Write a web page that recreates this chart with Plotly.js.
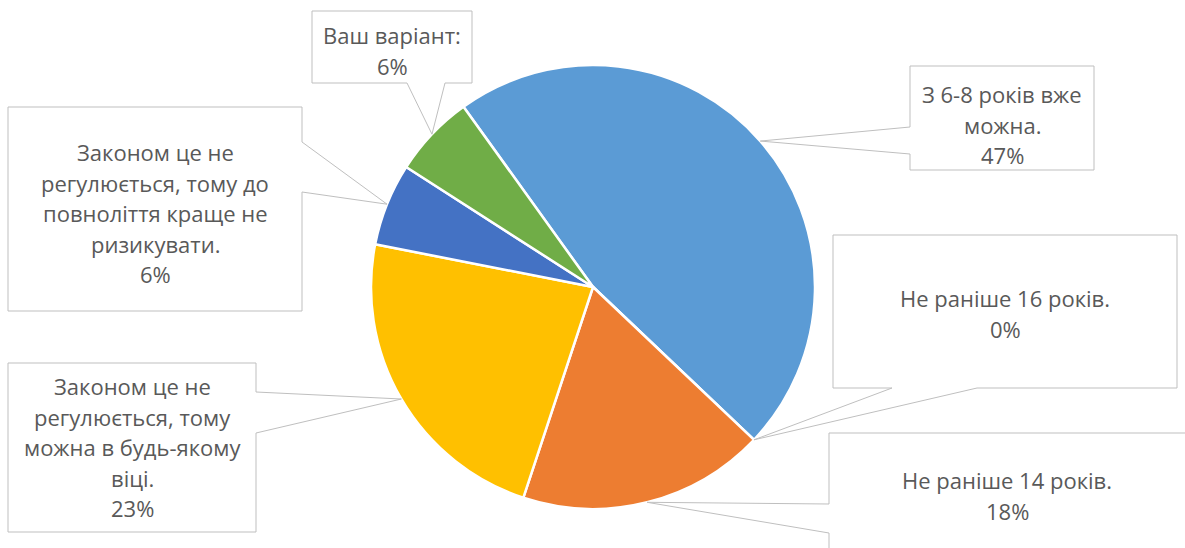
<!DOCTYPE html>
<html>
<head>
<meta charset="utf-8">
<script src="https://cdn.plot.ly/plotly-3.0.1.min.js"></script>
<style>html,body{margin:0;padding:0;background:#fff;}#chart{width:1185px;height:548px;}</style>
</head>
<body>
<div id="chart"></div>
<script>
// ---- data ----
const categories = [
  "З 6-8 років вже можна.",
  "Не раніше 16 років.",
  "Не раніше 14 років.",
  "Законом це не регулюється, тому можна в будь-якому віці.",
  "Законом це не регулюється, тому до повноліття краще не ризикувати.",
  "Ваш варіант:"
];
const values = [47, 0, 18, 23, 6, 6];
const labelLines = [
  ["З 6-8 років вже", "можна."],
  ["Не раніше 16 років."],
  ["Не раніше 14 років."],
  ["Законом це не", "регулюється, тому", "можна в будь-якому", "віці."],
  ["Законом це не", "регулюється, тому до", "повноліття краще не", "ризикувати."],
  ["Ваш варіант:"]
];
const colors = ["#5B9BD5", "#A5A5A5", "#ED7D31", "#FFC000", "#4472C4", "#70AD47"];

// ---- layout constants (pixels) ----
const W = 1185, H = 548;
const CX = 593, CY = 287, R = 222;
const START = 324.3;   // degrees clockwise from 12 o'clock
const LINE = 30.5;
// callout boxes: [x0,y0,x1,y1], wedge side, wedge base [a,b], text centre x, first line y
const callouts = [
  {box: [910, 66, 1094, 170], side: "left",   base: [127, 154], tx: 1002, ty: 94},
  {box: [833, 235, 1177, 388], side: "bottom", base: [892, 977], tx: 1005, ty: 298},
  {box: [829, 433, 1195, 560], side: "left",   base: [504, 533], tx: 1007, ty: 480},
  {box: [8, 363, 256, 532],    side: "right",  base: [392, 433], tx: 132,  ty: 386},
  {box: [8, 107, 302, 311],    side: "right",  base: [142, 192], tx: 155,  ty: 152},
  {box: [312, 11, 472, 83],    side: "bottom", base: [407, 445], tx: 392,  ty: 35}
];

const total = values.reduce((a, b) => a + b, 0);
const pct = values.map(v => Math.round(v / total * 100) + "%");

// tip of each callout = slice mid-angle on pie rim
let cum = 0;
const tips = values.map(v => {
  const ang = (START + (cum + v / 2) / total * 360) * Math.PI / 180;
  cum += v;
  return [CX + R * Math.sin(ang), CY - R * Math.cos(ang)];
});

const shapes = [];
const annotations = [];
const font = {family: "'Open Sans', 'Noto Sans', sans-serif", size: 22, color: "#595959"};

callouts.forEach((c, i) => {
  const [x0, y0, x1, y1] = c.box;
  const [tx, ty] = tips[i];
  const [a, b] = c.base;
  let p;
  if (c.side === "bottom") {
    p = `M${x0},${y0} L${x1},${y0} L${x1},${y1} L${b},${y1} L${tx},${ty} L${a},${y1} L${x0},${y1} Z`;
  } else if (c.side === "left") {
    p = `M${x0},${y0} L${x1},${y0} L${x1},${y1} L${x0},${y1} L${x0},${b} L${tx},${ty} L${x0},${a} Z`;
  } else {
    p = `M${x0},${y0} L${x1},${y0} L${x1},${a} L${tx},${ty} L${x1},${b} L${x1},${y1} L${x0},${y1} Z`;
  }
  shapes.push({type: "path", xref: "x", yref: "y", path: p,
    fillcolor: "#ffffff", line: {color: "#BFBFBF", width: 1}, layer: "above"});
  const lines = labelLines[i].concat([pct[i]]);
  lines.forEach((t, k) => {
    annotations.push({xref: "x", yref: "y", x: c.tx, y: c.ty + k * LINE, text: t,
      showarrow: false, xanchor: "center", yanchor: "middle", font: font});
  });
});

const traces = [
  {type: "scatter", x: [], y: [], hoverinfo: "skip", showlegend: false},
  {
    type: "pie",
    labels: categories,
    values: values,
    sort: false,
    direction: "clockwise",
    rotation: START,
    textinfo: "none",
    hoverinfo: "label+percent",
    marker: {colors: colors, line: {color: "#ffffff", width: 2.5}},
    domain: {x: [(CX - R) / W, (CX + R) / W], y: [1 - (CY + R) / H, 1 - (CY - R) / H]},
    showlegend: false
  }
];

const layout = {
  width: W, height: H,
  margin: {l: 0, r: 0, t: 0, b: 0},
  paper_bgcolor: "#ffffff", plot_bgcolor: "rgba(0,0,0,0)",
  xaxis: {range: [0, W], visible: false, fixedrange: true},
  yaxis: {range: [H, 0], visible: false, fixedrange: true},
  showlegend: false,
  shapes: shapes,
  annotations: annotations
};

Plotly.newPlot("chart", traces, layout, {displayModeBar: false, staticPlot: true});
</script>
</body>
</html>
